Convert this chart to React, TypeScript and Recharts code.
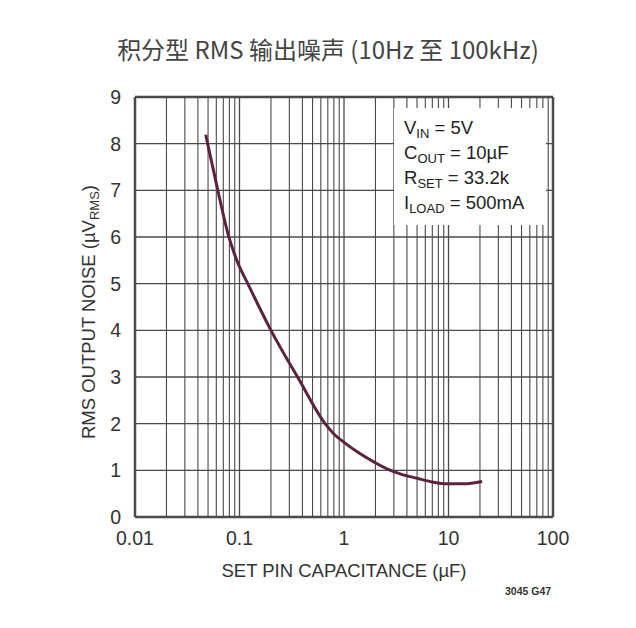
import { LineChart, Line, XAxis, YAxis, ReferenceLine } from 'recharts';

const capacitance = [0.0475, 0.062, 0.078, 0.095, 0.12, 0.2, 0.37, 0.66, 0.8, 1, 1.42, 2, 2.64, 3.5, 5, 7, 9.6, 14, 21];
const noise = [8.19, 7.0, 6.05, 5.48, 5.0, 4.0, 2.95, 2.0, 1.78, 1.6, 1.36, 1.16, 1.02, 0.92, 0.83, 0.75, 0.71, 0.71, 0.76];

const xTicks = [0.01, 0.1, 1, 10, 100];
const xTickLabels = ['0.01', '0.1', '1', '10', '100'];
const yTicks = [0, 1, 2, 3, 4, 5, 6, 7, 8, 9];
const decades = [0.01, 0.1, 1, 10];
const mantissas = [2, 3, 4, 5, 6, 7, 8, 9];

const data = capacitance.map((c, i) => ({ c, v: noise[i] }));
const minorX = decades.flatMap((d) => mantissas.map((m) => +(d * m).toPrecision(3)));

const font = '"Liberation Sans", Arial, sans-serif';
const gridColor = '#4a4a4a';
const subStyle = { fontSize: 13, verticalAlign: '-4px', lineHeight: 0 };

const App = () => {
  return (
    <div style={{ position: 'absolute', left: 0, top: 0, width: 636, height: 628, background: '#fff', fontFamily: font }}>
      <div
        style={{
          position: 'absolute', left: 0, top: 31, width: 656, textAlign: 'center',
          fontFamily: '"Noto Sans CJK SC", sans-serif', fontSize: 24, color: '#444', whiteSpace: 'nowrap',
        }}
      >
        积分型 RMS 输出噪声 (10Hz 至 100kHz)
      </div>

      <LineChart width={636} height={628} data={data} margin={{ top: 97, right: 83, bottom: 0, left: 0 }}>
        <XAxis
          dataKey="c"
          type="number"
          scale="log"
          domain={[0.01, 100]}
          ticks={xTicks}
          tickFormatter={(v: number) => xTickLabels[xTicks.indexOf(v)] ?? String(v)}
          allowDataOverflow
          height={111}
          tickSize={0}
          tickMargin={14}
          axisLine={false}
          tick={{ fontSize: 19.5, fill: '#333', fontFamily: font }}
        />
        <YAxis
          type="number"
          domain={[0, 9]}
          ticks={yTicks}
          width={135}
          tickSize={0}
          tickMargin={14}
          axisLine={false}
          tick={{ fontSize: 19.5, fill: '#333', fontFamily: font }}
        />
        {minorX.map((x) => (
          <ReferenceLine key={'vx' + x} x={x} stroke={gridColor} strokeWidth={1.1} />
        ))}
        {xTicks.map((x) => (
          <ReferenceLine key={'mx' + x} x={x} stroke={gridColor} strokeWidth={x === 0.01 || x === 100 ? 2.5 : 1.3} />
        ))}
        {yTicks.map((y) => (
          <ReferenceLine key={'hy' + y} y={y} stroke={gridColor} strokeWidth={y === 0 || y === 9 ? 2.5 : 1.3} />
        ))}
        <Line
          dataKey="v"
          type="monotone"
          stroke="#5c2340"
          strokeWidth={3}
          dot={false}
          isAnimationActive={false}
        />
      </LineChart>

      <div
        style={{
          position: 'absolute', left: 394, top: 108, width: 152, height: 117, background: '#fff',
          fontSize: 18.5, color: '#222', lineHeight: '25px', paddingLeft: 10, paddingTop: 7, boxSizing: 'border-box',
        }}
      >
        <div style={{ height: 25 }}>V<sub style={subStyle}>IN</sub> = 5V</div>
        <div style={{ height: 25 }}>C<sub style={subStyle}>OUT</sub> = 10µF</div>
        <div style={{ height: 25 }}>R<sub style={subStyle}>SET</sub> = 33.2k</div>
        <div style={{ height: 25 }}>I<sub style={subStyle}>LOAD</sub> = 500mA</div>
      </div>

      <div
        style={{
          position: 'absolute', left: 89, top: 312, transform: 'translate(-50%, -50%) rotate(-90deg)',
          fontSize: 18.5, color: '#333', whiteSpace: 'nowrap',
        }}
      >
        RMS OUTPUT NOISE (µV<sub style={subStyle}>RMS</sub>)
      </div>

      <div
        style={{
          position: 'absolute', left: 344, top: 571, transform: 'translate(-50%, -50%)',
          fontSize: 18.5, color: '#333', whiteSpace: 'nowrap',
        }}
      >
        SET PIN CAPACITANCE (µF)
      </div>

      <div
        style={{
          position: 'absolute', left: 505, top: 585, fontSize: 10.5, fontWeight: 'bold', color: '#333', whiteSpace: 'nowrap',
        }}
      >
        3045 G47
      </div>
    </div>
  );
};

export default App;
